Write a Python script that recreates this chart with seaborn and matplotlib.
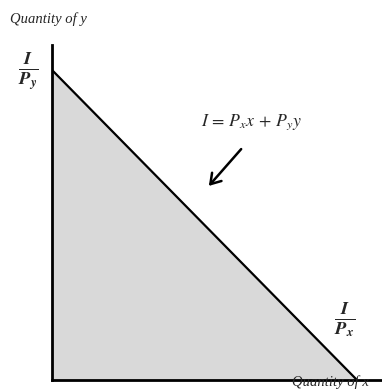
import matplotlib
matplotlib.use("Agg")
import matplotlib.pyplot as plt
import seaborn as sns
import pandas as pd

# budget line: intercepts I/Px on x, I/Py on y
x_vals = [0, 10]
y_vals = [10, 0]
x_label = "Quantity of x"
y_label = "Quantity of y"
equation = r"$I\, =\, P_x x\, +\, P_y y$"

sns.set_theme(style="white")
plt.rcParams["font.family"] = ["Liberation Serif", "DejaVu Serif"]
plt.rcParams["mathtext.fontset"] = "stix"

W, H = 382, 390
fig = plt.figure(figsize=(W / 100, H / 100), dpi=100)
ax = fig.add_axes([52 / W, 10 / H, (W - 52) / W, 335 / H])

df = pd.DataFrame({"x": x_vals, "y": y_vals})
ax.fill_between(df["x"], df["y"], 0, color="#d9d9d9", zorder=1)
sns.lineplot(data=df, x="x", y="y", ax=ax, color="black", linewidth=1.6, zorder=2)

ax.set_xlim(0, 10 * 330 / 305)
ax.set_ylim(0, 10 * 335 / 310)
ax.set_xticks([])
ax.set_yticks([])
ax.set_xlabel("")
ax.set_ylabel("")
for s in ["top", "right"]:
    ax.spines[s].set_visible(False)
for s in ["left", "bottom"]:
    ax.spines[s].set_color("black")
    ax.spines[s].set_linewidth(2)

fig.text(10 / W, 1 - 19 / H, y_label, fontsize=10.5, style="italic", va="center", ha="left")
fig.text(292 / W, 1 - 382 / H, x_label, fontsize=10.5, style="italic", va="center", ha="left")

fig.text(28 / W, 1 - 72 / H, r"$\frac{\mathbfit{I}}{\mathbfit{P}_{\mathbfit{y}}}$", fontsize=19,
         ha="center", va="center")
fig.text(345 / W, 1 - 320 / H, r"$\frac{\mathbfit{I}}{\mathbfit{P}_{\mathbfit{x}}}$", fontsize=19,
         ha="center", va="center")
fig.text(251 / W, 1 - 122 / H, equation, fontsize=12.8, ha="center", va="center")

fig.add_artist(matplotlib.patches.FancyArrowPatch(
    (243 / W, 1 - 147 / H), (207 / W, 1 - 188 / H), transform=fig.transFigure,
    arrowstyle="->,head_length=7,head_width=4.5", color="black", linewidth=1.8))

fig.savefig("out.png", dpi=100)
